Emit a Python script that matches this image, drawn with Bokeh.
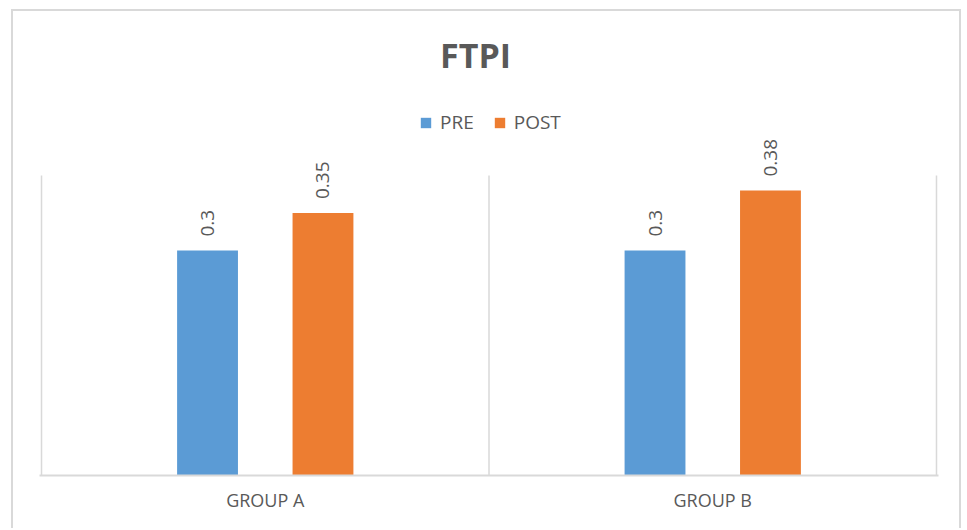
from math import pi
from bokeh.plotting import figure
from bokeh.models import (ColumnDataSource, FactorRange, Range1d, LabelSet, Legend,
                          LegendItem, Label)
from bokeh.core.properties import value
from bokeh.transform import dodge
from bokeh.embed import file_html
from bokeh.resources import INLINE

title_text = "FTPI"
groups = ["GROUP A", "GROUP B"]
pre = [0.30, 0.30]
post = [0.35, 0.38]
pre_labels = ["0.3", "0.3"]
post_labels = ["0.35", "0.38"]
series_names = ["PRE", "POST"]
value_axis_max = 0.4

BLUE = "#5B9BD5"
ORANGE = "#ED7D31"
GRAY_TEXT = "#595959"
GRAY_LINE = "#D9D9D9"
FONT = "Open Sans"

src = ColumnDataSource(dict(groups=groups, pre=pre, post=post,
                            pre_labels=pre_labels, post_labels=post_labels))

p = figure(x_range=FactorRange(*groups, range_padding=0.0045),
           y_range=Range1d(0, 0.6), title=None,
           width=950, height=519, output_backend="svg", toolbar_location=None,
           min_border_left=26, min_border_right=25, min_border_top=14,
           min_border_bottom=55)
p.margin = (9, 0, 0, 11)
p.styles = {"border-top": "2px solid #D9D9D9", "border-left": "2px solid #D9D9D9",
            "border-right": "2px solid #D9D9D9"}

# category separators of the plot area (from value 0 up to the value-axis max)
bounds = list(range(len(groups) + 1))
p.segment(x0=bounds, x1=bounds, y0=[0] * len(bounds), y1=[value_axis_max] * len(bounds),
          line_color=GRAY_LINE, line_width=1.5)

w = 0.136
off = 0.129
r_pre = p.vbar(x=dodge("groups", -off, range=p.x_range), top="pre", width=w,
               source=src, fill_color=BLUE, line_color=None)
r_post = p.vbar(x=dodge("groups", off, range=p.x_range), top="post", width=w,
                source=src, fill_color=ORANGE, line_color=None)

for xcol, ycol, tcol in [(-off, "pre", "pre_labels"), (off, "post", "post_labels")]:
    p.add_layout(LabelSet(x=dodge("groups", xcol, range=p.x_range), y=ycol, text=tcol,
                          source=src, angle=pi / 2, text_align="left",
                          text_baseline="middle", y_offset=14, x_offset=0,
                          text_font=value(FONT), text_font_size="19px",
                          text_color=GRAY_TEXT))

legend = Legend(items=[LegendItem(label=series_names[0], renderers=[r_pre]),
                       LegendItem(label=series_names[1], renderers=[r_post])],
                orientation="horizontal", location=(380, 340),
                label_text_font=FONT, label_text_font_size="19px",
                label_text_color=GRAY_TEXT, glyph_width=13, glyph_height=13,
                spacing=19, label_standoff=8, border_line_color=None,
                background_fill_alpha=0, margin=0, padding=5)
p.add_layout(legend, "center")

p.add_layout(Label(x=0.97, y=0.561, text=title_text, text_align="center",
                   text_baseline="middle", text_font=FONT, text_font_size="34px",
                   text_font_style="bold", text_color=GRAY_TEXT))

p.yaxis.visible = False
p.ygrid.visible = False
p.xgrid.visible = False
p.xaxis.axis_line_color = GRAY_LINE
p.xaxis.axis_line_width = 2
p.xaxis.major_tick_line_color = None
p.xaxis.major_tick_out = 0
p.xaxis.minor_tick_line_color = None
p.xaxis.major_label_text_font = FONT
p.xaxis.major_label_text_font_size = "18px"
p.xaxis.major_label_text_color = GRAY_TEXT
p.xaxis.major_label_standoff = 12
p.outline_line_color = None

open("out.html", "w").write(file_html(p, INLINE))
